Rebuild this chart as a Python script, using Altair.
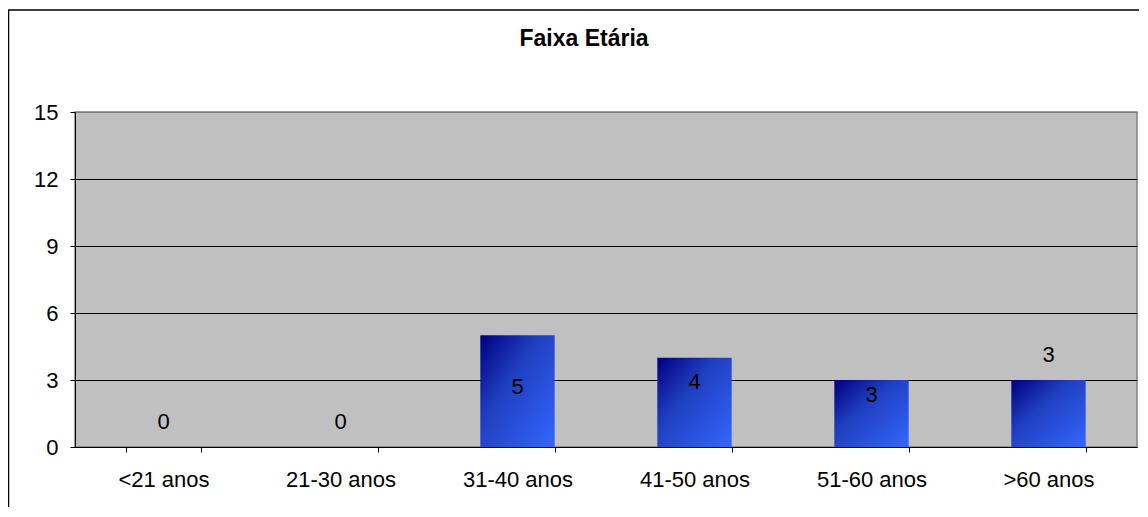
import altair as alt
import pandas as pd

categories = ["<21 anos", "21-30 anos", "31-40 anos", "41-50 anos", "51-60 anos", ">60 anos"]
counts = [0, 0, 5, 4, 3, 3]
# vertical shift of each value label relative to its bar top (data units), as placed in the reference
label_shift = [1.19, 1.19, -2.22, -1.0, -0.58, 1.22]
y_ticks = [0, 3, 6, 9, 12, 15]

df = pd.DataFrame({"faixa": categories, "n": counts, "shift": label_shift})

FONT = "Liberation Sans"

x_enc = alt.X(
    "faixa:N",
    sort=categories,
    title=None,
    scale=alt.Scale(paddingInner=0.58, paddingOuter=0.29),
    axis=alt.Axis(
        labelAngle=0, labelFontSize=22, labelFont=FONT, labelColor="black",
        tickBand="extent", tickSize=5, tickColor="black", domainColor="black",
        labelPadding=17, grid=False,
    ),
)

y_scale = alt.Scale(domain=[0, 15], nice=False)

bars = alt.Chart(df).mark_bar(
    color=alt.Gradient(
        gradient="linear",
        stops=[
            alt.GradientStop(color="#000080", offset=0),
            alt.GradientStop(color="#1f3fc0", offset=0.4),
            alt.GradientStop(color="#3366ff", offset=1),
        ],
        x1=0, y1=0, x2=1, y2=1,
    )
).encode(
    x=x_enc,
    y=alt.Y(
        "n:Q",
        scale=y_scale,
        title=None,
        axis=alt.Axis(
            values=y_ticks, labelFontSize=22, labelFont=FONT, labelColor="black",
            tickSize=5, tickColor="black", domainColor="black", labelPadding=12,
            gridColor=alt.condition("datum.value == 15", alt.value("#808080"), alt.value("black")),
            gridOpacity=1, grid=True,
        ),
    ),
)

labels = alt.Chart(df).transform_calculate(
    ly="datum.n + datum.shift"
).mark_text(
    fontSize=22, font=FONT, color="black", baseline="middle", align="center", dy=2
).encode(
    x=alt.X("faixa:N", sort=categories),
    y=alt.Y("ly:Q", scale=y_scale),
    text="n:Q",
)

frame = alt.Chart(pd.DataFrame({"k": [0]})).mark_rect(
    filled=False, stroke="black", strokeWidth=1.5
).encode(
    x=alt.value(-66.5), x2=alt.value(1110), y=alt.value(-102), y2=alt.value(460)
)

chart = alt.layer(bars, labels, frame).properties(
    width=1062,
    height=335,
    background="white",
    title=alt.TitleParams(
        "Faixa Etária", font=FONT, fontSize=23, fontWeight="bold", color="black",
        anchor="middle", frame="group", dx=-22, offset=-60, baseline="alphabetic",
    ),
    autosize=alt.AutoSizeParams(type="none"),
    padding={"left": 67, "top": 104, "right": 2, "bottom": 60},
).configure_view(
    fill="#c0c0c0", stroke="#808080", strokeWidth=1.5
)

chart.save("out.html", embed_options={"renderer": "svg", "actions": False})
